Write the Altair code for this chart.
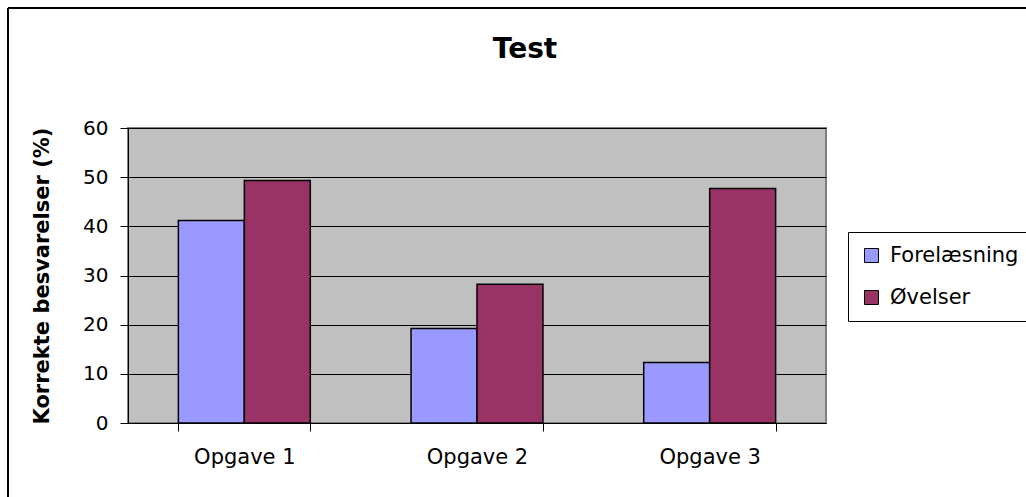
import altair as alt
import pandas as pd

categories = ["Opgave 1", "Opgave 2", "Opgave 3"]
series = ["Forelæsning", "Øvelser"]
forelaesning = [41.2, 19.2, 12.3]
oevelser = [49.3, 28.2, 47.7]
colors = ["#9999FF", "#993366"]

rows = []
for i, c in enumerate(categories):
    rows.append({"Opgave": c, "Serie": series[0], "Værdi": forelaesning[i]})
    rows.append({"Opgave": c, "Serie": series[1], "Værdi": oevelser[i]})
df = pd.DataFrame(rows)

FONT = "DejaVu Sans"

bars = alt.Chart(df).mark_bar(stroke="black", strokeWidth=1.5).encode(
    x=alt.X(
        "Opgave:N",
        sort=categories,
        scale=alt.Scale(paddingInner=0.433, paddingOuter=0.2165),
        axis=alt.Axis(
            title=None,
            labelAngle=0,
            labelFont=FONT,
            labelFontSize=21,
            labelColor="black",
            labelPadding=15,
            tickBand="extent",
            tickSize=8,
            tickColor="black",
            domainColor="black",
            grid=False,
        ),
    ),
    xOffset=alt.XOffset("Serie:N", sort=series, scale=alt.Scale(paddingInner=0, paddingOuter=0)),
    y=alt.Y(
        "Værdi:Q",
        scale=alt.Scale(domain=[0, 60], nice=False),
        axis=alt.Axis(
            title="Korrekte besvarelser (%)",
            titleFont=FONT,
            titleFontSize=21,
            titleFontWeight="bold",
            titleColor="black",
            titlePadding=30,
            values=[0, 10, 20, 30, 40, 50, 60],
            labelFont=FONT,
            labelFontSize=20,
            labelColor="black",
            labelPadding=12,
            tickSize=8,
            tickColor="black",
            domainColor="black",
            grid=True,
            gridColor="black",
            gridWidth=1,
        ),
    ),
    color=alt.Color(
        "Serie:N",
        sort=series,
        scale=alt.Scale(domain=series, range=colors),
        legend=alt.Legend(
            title=None,
            orient="none",
            legendX=720,
            legendY=104,
            strokeColor="black",
            fillColor="white",
            padding=13,
            symbolType="square",
            symbolSize=196,
            symbolStrokeColor="black",
            symbolStrokeWidth=1,
            symbolOpacity=1,
            labelFont=FONT,
            labelFontSize=21,
            labelColor="black",
            labelOffset=8,
            rowPadding=20,
        ),
    ),
)

border = alt.Chart(alt.Data(values=[{}])).mark_rule(color="black", strokeWidth=2)
border_left = border.encode(x=alt.value(-120), y=alt.value(-120), y2=alt.value(369))
border_top = border.encode(x=alt.value(-120), x2=alt.value(898), y=alt.value(-120))

chart = alt.layer(border_left, border_top, bars).properties(
    width=698,
    height=295,
    title=alt.TitleParams(
        "Test",
        font=FONT,
        fontSize=28,
        fontWeight="bold",
        color="black",
        anchor="middle",
        dx=48,
        dy=57,
        offset=0,
    ),
    padding={"left": 128, "top": 128, "right": 200, "bottom": 74},
    autosize=alt.AutoSizeParams(type="none"),
    background="white",
).configure_view(
    fill="#C0C0C0",
    stroke="#808080",
    strokeWidth=2,
)

chart.save("out.html", embed_options={"renderer": "svg", "actions": False})
